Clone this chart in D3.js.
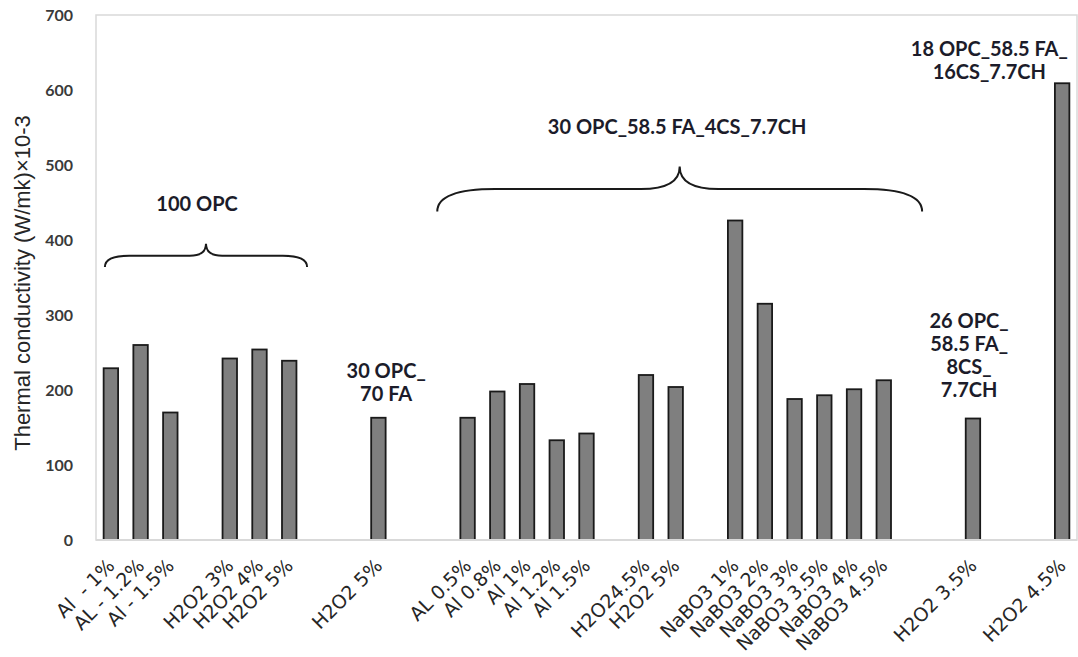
<!DOCTYPE html>
<html lang="en">
<head>
<meta charset="UTF-8">
<title>Thermal conductivity</title>
<script src="https://d3js.org/d3.v7.min.js"></script>
<style>
  body { margin: 0; background: #fff; }
  svg { display: block; }
  .xlab { font-family: "DejaVu Sans", sans-serif; font-size: 19px; fill: #262626; white-space: pre; }
  .ytick text { font-family: Lato, sans-serif; font-size: 16px; font-weight: bold; fill: #3a3a3a; }
  .note { font-family: Lato, sans-serif; font-size: 20px; font-weight: bold; fill: #1c1c2a; }
  .ytitle { font-family: "Liberation Sans", Arial, sans-serif; font-size: 22px; fill: #262626; }
</style>
</head>
<body>
<svg width="1078" height="657"></svg>
<script>
// bar categories (empty strings are the blank gaps of the original chart)
const categories = ["Al  - 1%", "AL - 1.2%", "Al - 1.5%", "", "H2O2 3%", "H2O2 4%", "H2O2 5%", "", "",
  "H2O2 5%", "", "", "AL 0.5%", "Al 0.8%", "Al 1%", "Al 1.2%", "Al 1.5%", "", "H2O24.5%", "H2O2 5%", "",
  "NaBO3 1%", "NaBO3 2%", "NaBO3 3%", "NaBO3 3.5%", "NaBO3 4%", "NaBO3 4.5%", "", "", "H2O2 3.5%", "", "",
  "H2O2 4.5%"];
const values = [229, 260, 170, null, 242, 254, 239, null, null,
  163, null, null, 163, 198, 208, 133, 142, null, 220, 204, null,
  426, 315, 188, 193, 201, 213, null, null, 162, null, null,
  609];
const yTicks = [0, 100, 200, 300, 400, 500, 600, 700];

// group notes: slot position, value position, text lines
const notes = [
  { slot: 2.9, val: 448, lines: ["100 OPC"] },
  { slot: 9.26, val: 226, lines: ["30 OPC_", "70 FA"] },
  { slot: 19.05, val: 551, lines: ["30 OPC_58.5 FA_4CS_7.7CH"] },
  { slot: 28.87, val: 292, lines: ["26 OPC_", "58.5 FA_", "8CS_", "7.7CH"] },
  { slot: 29.55, val: 655, lines: ["18 OPC_58.5 FA_", "16CS_7.7CH"] }
];
// curly braces: from slot, to slot, value at the ends, bar and tip
const braces = [
  { from: -0.2, to: 6.6, end: 364, bar: 379, tip: 395 },
  { from: 10.98, to: 27.29, end: 438, bar: 468, tip: 498 }
];

const svg = d3.select("svg");
const margin = { top: 15, right: 1, bottom: 117, left: 96 };
const width = 1078 - margin.left - margin.right,
      height = 657 - margin.top - margin.bottom;

const g = svg.append("g").attr("transform", `translate(${margin.left},${margin.top})`);

const x = d3.scaleBand()
  .domain(d3.range(categories.length))
  .range([0, width])
  .paddingInner(0.46)
  .paddingOuter(0.23);

const y = d3.scaleLinear().domain([0, 700]).range([height, 0]);

// slot index -> centre pixel
const xc = d3.scaleLinear()
  .domain([0, categories.length - 1])
  .range([x(0) + x.bandwidth() / 2, x(categories.length - 1) + x.bandwidth() / 2]);

// plot frame
g.append("rect")
  .attr("x", 0).attr("y", 0)
  .attr("width", width).attr("height", height)
  .attr("fill", "none")
  .attr("stroke", "#d9d9d9")
  .attr("stroke-width", 1.5);

// bars
const bars = categories.map((c, i) => ({ i, c, v: values[i] })).filter(d => d.v != null);
g.selectAll(".bar")
  .data(bars)
  .enter().append("rect")
  .attr("class", "bar")
  .attr("x", d => x(d.i) + 0.8)
  .attr("y", d => y(d.v))
  .attr("width", x.bandwidth() - 1.6)
  .attr("height", d => height - y(d.v))
  .attr("fill", "#7f7f7f")
  .attr("stroke", "#1a1a1a")
  .attr("stroke-width", 1.8);

// bottom axis line
g.append("line")
  .attr("x1", 0).attr("x2", width)
  .attr("y1", height).attr("y2", height)
  .attr("stroke", "#d9d9d9").attr("stroke-width", 2);

// y axis
g.append("g")
  .attr("class", "ytick")
  .call(d3.axisLeft(y).tickValues(yTicks).tickSize(0).tickPadding(23))
  .call(a => a.select(".domain").remove());

// x labels, rotated
g.selectAll(".xlab")
  .data(bars)
  .enter().append("text")
  .attr("class", "xlab")
  .attr("text-anchor", "end")
  .attr("transform", d => `translate(${xc(d.i) + 5},${height + 27}) rotate(-45)`)
  .text(d => d.c);

// y title
svg.append("text")
  .attr("class", "ytitle")
  .attr("text-anchor", "middle")
  .attr("transform", `translate(30,${margin.top + 268}) rotate(-90)`)
  .text("Thermal conductivity (W/mk)×10-3");

// braces
g.selectAll(".brace")
  .data(braces)
  .enter().append("path")
  .attr("class", "brace")
  .attr("fill", "none")
  .attr("stroke", "#1a1a1a")
  .attr("stroke-width", 2)
  .attr("d", d => {
    const x0 = xc(d.from), x1 = xc(d.to), xm = (x0 + x1) / 2;
    const ye = y(d.end), yb = y(d.bar), yt = y(d.tip);
    const w = x1 - x0, r = w * 0.12, rt = w * 0.08;
    return `M${x0},${ye} Q${x0},${yb} ${x0 + r},${yb} L${xm - rt},${yb} Q${xm},${yb} ${xm},${yt}` +
           ` M${xm},${yt} Q${xm},${yb} ${xm + rt},${yb} L${x1 - r},${yb} Q${x1},${yb} ${x1},${ye}`;
  });

// group notes
notes.forEach(n => {
  const t = g.append("text")
    .attr("class", "note")
    .attr("text-anchor", "middle")
    .attr("x", xc(n.slot))
    .attr("y", y(n.val));
  n.lines.forEach((l, k) => {
    t.append("tspan")
      .attr("x", xc(n.slot))
      .attr("dy", k === 0 ? "0.35em" : "1.15em")
      .text(l);
  });
});
</script>
</body>
</html>
